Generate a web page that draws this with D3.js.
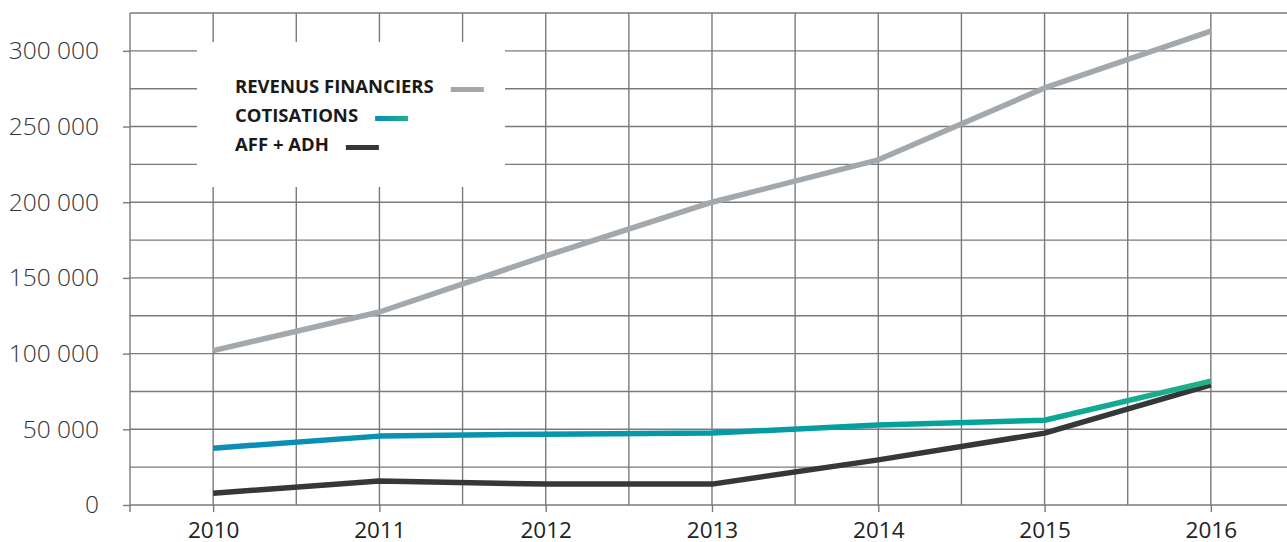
<!DOCTYPE html>
<html>
<head>
<meta charset="utf-8">
<script src="https://cdn.jsdelivr.net/npm/d3@7"></script>
<style>
  html, body { margin: 0; padding: 0; background: #fff; }
  svg { display: block; font-family: "Open Sans", sans-serif; }
</style>
</head>
<body>
<svg id="chart" width="1287" height="542"></svg>
<script>
const years = [2010, 2011, 2012, 2013, 2014, 2015, 2016];
const revenusFinanciers = [102000, 127500, 164500, 200000, 228000, 275500, 313000];
const cotisations = [37500, 45500, 46800, 47500, 52800, 56000, 81800];
const affAdh = [7800, 15800, 13800, 13800, 29800, 47500, 79300];
const yTicks = [0, 50000, 100000, 150000, 200000, 250000, 300000];
const seriesNames = ["REVENUS FINANCIERS", "COTISATIONS", "AFF + ADH"];

const svg = d3.select("#chart");
const x = d3.scaleLinear().domain([2009.5, 2016.5]).range([130, 1294]);
const y = d3.scaleLinear().domain([0, 325000]).range([505, 13]);

const gridColor = "#7a7a7a";

// horizontal grid lines every 25 000
const hVals = d3.range(0, 325001, 25000);
svg.append("g").selectAll("line").data(hVals).join("line")
  .attr("x1", 130).attr("x2", 1287)
  .attr("y1", d => y(d)).attr("y2", d => y(d))
  .attr("stroke", gridColor).attr("stroke-width", 1.4);

// vertical grid lines every half year
const vVals = d3.range(2009.5, 2016.51, 0.5);
svg.append("g").selectAll("line").data(vVals).join("line")
  .attr("x1", d => x(d)).attr("x2", d => x(d))
  .attr("y1", y(325000)).attr("y2", y(0))
  .attr("stroke", gridColor).attr("stroke-width", 1.4);

// left axis extension below zero
svg.append("line").attr("x1", 130).attr("x2", 130).attr("y1", y(0)).attr("y2", y(0) + 7)
  .attr("stroke", gridColor).attr("stroke-width", 1.4);

const xAxis = d3.axisBottom(x).tickValues(years).tickFormat(d3.format("d")).tickSize(7).tickPadding(6);
const gx = svg.append("g").attr("transform", `translate(0,${y(0)})`).call(xAxis);
gx.select(".domain").remove();
gx.selectAll(".tick line").attr("stroke", gridColor).attr("stroke-width", 1.4);
gx.selectAll(".tick text").attr("font-size", 22.5).attr("fill", "#222")
  .attr("font-family", "Open Sans").attr("font-weight", 400)
  .attr("y", 33).attr("dy", null);

const fmt = d => d === 0 ? "0" : d3.format(",")(d).replace(/,/g, " ");
const yAxis = d3.axisLeft(y).tickValues(yTicks).tickFormat(fmt).tickSize(7).tickPadding(24);
const gy = svg.append("g").attr("transform", "translate(130,0)").call(yAxis);
gy.select(".domain").remove();
gy.selectAll(".tick line").attr("stroke", gridColor).attr("stroke-width", 1.4);
gy.selectAll(".tick text").attr("font-size", 24.5).attr("fill", "#333")
  .attr("font-family", "Open Sans").attr("font-weight", 300);

// legend background
svg.append("rect").attr("x", 197).attr("y", 42).attr("width", 308).attr("height", 145).attr("fill", "#fff");

// gradient for cotisations
const defs = svg.append("defs");
const grad = defs.append("linearGradient").attr("id", "cotGrad")
  .attr("gradientUnits", "userSpaceOnUse")
  .attr("x1", x(2010)).attr("x2", x(2016)).attr("y1", 0).attr("y2", 0);
grad.append("stop").attr("offset", "0").attr("stop-color", "#0a8db8");
grad.append("stop").attr("offset", "0.5").attr("stop-color", "#049aa6");
grad.append("stop").attr("offset", "0.8").attr("stop-color", "#04a598");
grad.append("stop").attr("offset", "1").attr("stop-color", "#22b08a");
const lgGrad = defs.append("linearGradient").attr("id", "cotLeg")
  .attr("x1", "0").attr("x2", "1").attr("y1", "0").attr("y2", "0");
lgGrad.append("stop").attr("offset", "0").attr("stop-color", "#0a8db8");
lgGrad.append("stop").attr("offset", "1").attr("stop-color", "#22b08a");

const line = d3.line().x((d, i) => x(years[i])).y(d => y(d));
const series = [
  { name: seriesNames[0], values: revenusFinanciers, color: "#a3a8ad" },
  { name: seriesNames[1], values: cotisations, color: "url(#cotGrad)" },
  { name: seriesNames[2], values: affAdh, color: "#353839" }
];
// draw order: revenus, aff, cotisations on top
[series[0], series[2], series[1]].forEach(s => {
  svg.append("path").datum(s.values).attr("d", line)
    .attr("fill", "none").attr("stroke", s.color).attr("stroke-width", 5.5)
    .attr("stroke-linejoin", "round");
});

// legend
const legColors = ["#a3a8ad", "url(#cotLeg)", "#353839"];
const legY = [93, 122, 151];
series.forEach((s, i) => {
  const t = svg.append("text").attr("x", 235).attr("y", legY[i])
    .attr("font-size", 18.5).attr("font-weight", 700).attr("fill", "#1a1a1a")
    .attr("font-family", "Open Sans").text(s.name);
  const w = t.node().getComputedTextLength();
  svg.append("rect").attr("x", 235 + w + 17).attr("y", legY[i] - 6)
    .attr("width", 33).attr("height", 5).attr("fill", legColors[i]);
});
</script>
</body>
</html>
